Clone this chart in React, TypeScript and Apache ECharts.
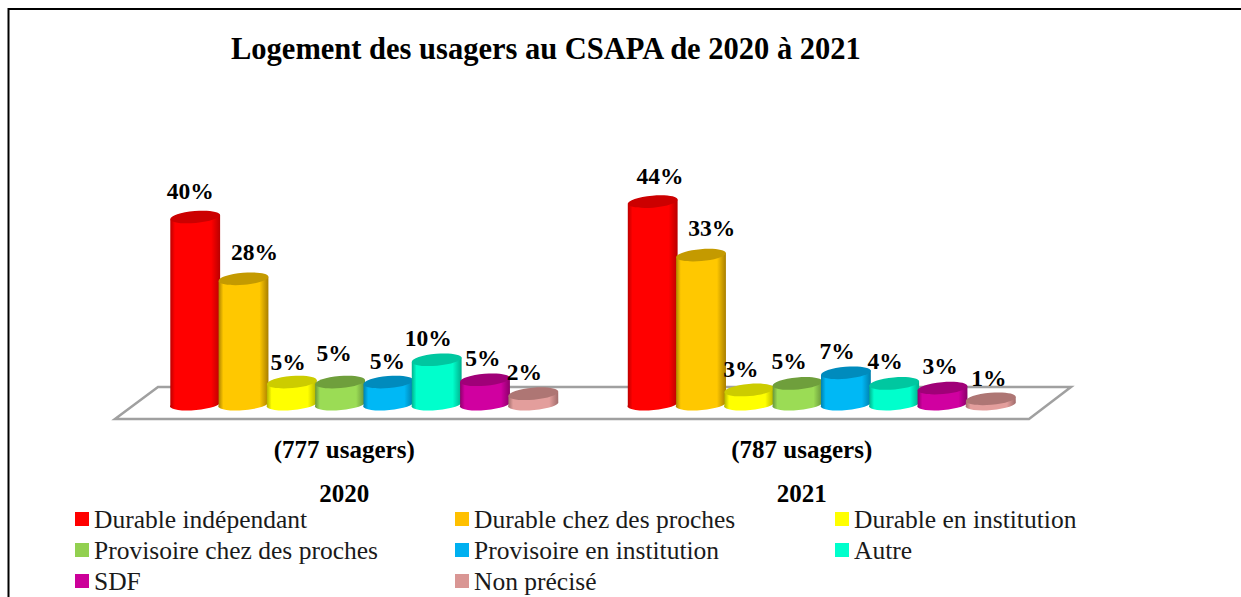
import React, { useEffect, useRef } from "react";
import * as echarts from "echarts";

const years = ["2020", "2021"];
const usagers = ["(777 usagers)", "(787 usagers)"];
const titleText = "Logement des usagers au CSAPA de 2020 à 2021";

const categories = [
  "Durable indépendant",
  "Durable chez des proches",
  "Durable en institution",
  "Provisoire chez des proches",
  "Provisoire en institution",
  "Autre",
  "SDF",
  "Non précisé",
];

// Printed percentages
const printed2020 = [40, 28, 5, 5, 5, 10, 5, 2];
const printed2021 = [44, 33, 3, 5, 7, 4, 3, 1];
// Bar heights (percent units)
const height2020 = [40, 26.7, 4.5, 4.5, 4.5, 9.3, 5, 2];
const height2021 = [43.3, 31.8, 2.8, 4.2, 6.5, 4.2, 3.2, 0.9];

// Style tables
const bodyColors = ["#FF0000", "#FFC800", "#FFFF00", "#9BDC55", "#00B8F5", "#00FFCC", "#D000A0", "#E39E9C"];
const legendColors = ["#FF0000", "#FFC000", "#FFFF00", "#92D050", "#00B0F0", "#00FFCC", "#CC0099", "#D99694"];
const edgeColors = ["#B80000", "#A87E00", "#B0B000", "#64913A", "#007DAA", "#00AD8A", "#8A0068", "#A06C6B"];
const topColors = ["#CC0000", "#C49A00", "#CCCC00", "#6F9F3C", "#008BBD", "#00C7A0", "#A00078", "#AE7674"];
const labelOffsets2020 = [[-5, 26], [11, 27], [-3.6, 20], [-6, 29], [-1, 21], [-8.5, 22], [-2, 22], [-9, 22]];
const labelOffsets2021 = [[7.4, 25.7], [10.8, 26.7], [-8.5, 21], [-8.5, 22], [-8.8, 22], [-9, 22], [-2.4, 22.3], [-2, 21]];

const SERIF = '"Liberation Serif", serif';

function cylinderSeries(name: string, i: number) {
  return {
    type: "custom",
    name,
    itemStyle: { color: legendColors[i] },
    clip: false,
    encode: { x: 0, y: 1 },
    data: [
      [0, height2020[i], printed2020[i]],
      [1, height2021[i], printed2021[i]],
    ],
    renderItem: (_p: any, api: any) => {
      const idx = api.value(0);
      const top = api.coord([idx, api.value(1)]);
      const base = api.coord([idx, 0]);
      const band = api.size([1, 0])[0];
      const pitch = band * 0.10557;
      const cx = top[0] + band * 0.0437 + (i - 3.5) * pitch;
      const rx = 25;
      const ry = 6;
      const rot = -5;
      const dy = rx * Math.sin((-rot * Math.PI) / 180);
      const dxx = rx * Math.cos((-rot * Math.PI) / 180);
      const ty = top[1];
      const by = base[1];
      const d =
        `M ${cx - dxx} ${ty + dy} L ${cx - dxx} ${by + dy} ` +
        `A ${rx} ${ry} ${rot} 0 0 ${cx + dxx} ${by - dy} L ${cx + dxx} ${ty - dy} Z`;
      const off = (idx === 0 ? labelOffsets2020 : labelOffsets2021)[i];
      return {
        type: "group",
        children: [
          {
            type: "path",
            shape: { pathData: d, layout: "none" },
            style: {
              fill: new echarts.graphic.LinearGradient(0, 0, 1, 0, [
                { offset: 0, color: edgeColors[i] },
                { offset: 0.1, color: bodyColors[i] },
                { offset: 0.82, color: bodyColors[i] },
                { offset: 1, color: edgeColors[i] },
              ]),
            },
          },
          {
            type: "ellipse",
            x: cx,
            y: ty,
            rotation: (-rot * Math.PI) / 180,
            shape: { cx: 0, cy: 0, rx, ry },
            style: { fill: topColors[i] },
          },
          {
            type: "text",
            x: cx + off[0],
            y: ty - off[1],
            style: {
              text: api.value(2) + "%",
              fill: "#000",
              font: `bold 23.5px ${SERIF}`,
              align: "center",
              verticalAlign: "middle",
            },
            z2: 10,
          },
        ],
      };
    },
  };
}

function legendColumn(names: string[], left: number) {
  return {
    show: true,
    orient: "vertical",
    left,
    top: 506,
    height: 90,
    itemWidth: 14,
    itemHeight: 14,
    itemGap: 5,
    icon: "rect",
    selectedMode: false,
    data: names,
    textStyle: { fontFamily: SERIF, fontSize: 25.5, color: "#1a1a1a" },
    padding: 0,
  };
}

export default function App() {
  const ref = useRef<HTMLDivElement>(null);
  useEffect(() => {
    const chart = echarts.init(ref.current!, null, { renderer: "svg" });
    chart.setOption({
      animation: false,
      backgroundColor: "#ffffff",
      title: {
        text: titleText,
        left: 231,
        top: 33,
        padding: 0,
        textStyle: { fontFamily: SERIF, fontWeight: "bold", fontSize: 30.5, color: "#000" },
      },
      grid: { left: 115.5, width: 915, top: 170.5, height: 232.5 },
      xAxis: {
        type: "category",
        data: years,
        axisLine: { show: false },
        axisTick: { show: false },
        axisLabel: {
          margin: 24,
          fontFamily: SERIF,
          fontWeight: "bold",
          fontSize: 25,
          lineHeight: 44,
          color: "#000",
          formatter: (v: string) => `${usagers[years.indexOf(v)]}\n${v}`,
        },
      },
      yAxis: { type: "value", min: 0, max: 50, show: false, splitLine: { show: false } },
      legend: [
        legendColumn([categories[0], categories[3], categories[6]], 75),
        legendColumn([categories[1], categories[4], categories[7]], 455),
        legendColumn([categories[2], categories[5]], 835),
      ],
      graphic: [
        {
          type: "polyline",
          shape: { points: [[8.5, 597], [8.5, 9], [1241, 9]] },
          style: { stroke: "#000", lineWidth: 2, fill: "none" },
          silent: true,
        },
        {
          type: "polygon",
          shape: { points: [[115, 419], [1029, 419], [1071, 387], [158, 387]] },
          style: { stroke: "#a0a0a0", lineWidth: 2.5, fill: "#fff" },
          silent: true,
          z: -1,
        },
      ],
      series: categories.map((c, i) => cylinderSeries(c, i)),
    });
    return () => chart.dispose();
  }, []);
  return (
    <div
      ref={ref}
      style={{ position: "absolute", left: 0, top: 0, width: 1241, height: 597, overflow: "hidden" }}
    />
  );
}
